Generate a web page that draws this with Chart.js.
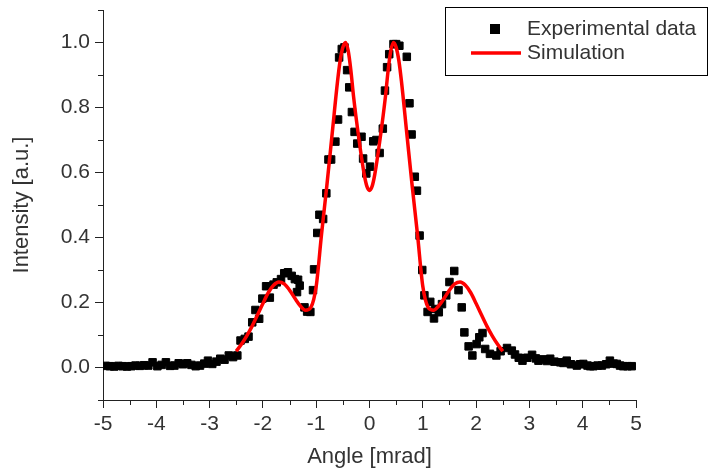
<!DOCTYPE html>
<html>
<head>
<meta charset="utf-8">
<script src="https://cdn.jsdelivr.net/npm/chart.js@4/dist/chart.umd.min.js"></script>
<style>
  body { margin: 0; background: #fff; }
  canvas { display: block; }
</style>
</head>
<body>
<canvas id="chart" width="711" height="471"></canvas>
<script>
// experimental points (angle in mrad, normalised intensity)
const expAngle = [
  -4.95, -4.87, -4.79, -4.71, -4.63, -4.55, -4.47, -4.39, -4.31, -4.23,
  -4.15, -4.07, -3.98, -3.90, -3.82, -3.74, -3.66, -3.58, -3.50, -3.42,
  -3.34, -3.26, -3.18, -3.10, -3.03, -2.95, -2.87, -2.80, -2.72, -2.64,
  -2.56, -2.48, -2.42, -2.34, -2.27, -2.20, -2.14, -2.07, -2.01, -1.94,
  -1.87, -1.80, -1.74, -1.66, -1.60, -1.53, -1.46, -1.40, -1.34, -1.36,
  -1.31, -1.22, -1.17, -1.11, -1.06, -1.04, -0.98, -0.94, -0.87, -0.81,
  -0.77, -0.72, -0.64, -0.59, -0.57, -0.52, -0.47, -0.42, -0.38, -0.33,
  -0.28, -0.23, -0.15, -0.12, -0.06, 0.01, 0.07, 0.13, 0.19, 0.25,
  0.29, 0.33, 0.37, 0.45, 0.50, 0.56, 0.70, 0.75, 0.79, 0.85,
  0.89, 0.94, 0.99, 1.03, 1.09, 1.14, 1.21, 1.23, 1.30, 1.36,
  1.44, 1.50, 1.59, 1.67, 1.73, 1.78, 1.86, 1.93, 2.01, 2.06,
  2.12, 2.17, 2.26, 2.38, 2.46, 2.58, 2.67, 2.73, 2.80, 2.87,
  2.96, 3.05, 3.12, 3.17, 3.26, 3.33, 3.39, 3.47, 3.58, 3.64,
  3.70, 3.78, 3.89, 3.95, 4.01, 4.09, 4.14, 4.20, 4.28, 4.36,
  4.44, 4.51, 4.58, 4.64, 4.70, 4.76, 4.84, 4.92
];
const expIntensity = [
  0.005, 0.004, 0.003, 0.005, 0.004, 0.003, 0.004, 0.006, 0.005, 0.007,
  0.006, 0.016, 0.004, 0.008, 0.016, 0.005, 0.006, 0.013, 0.010, 0.013,
  0.008, 0.004, 0.006, 0.012, 0.021, 0.011, 0.018, 0.027, 0.024, 0.037,
  0.032, 0.037, 0.083, 0.088, 0.095, 0.139, 0.177, 0.150, 0.212, 0.250,
  0.215, 0.255, 0.262, 0.272, 0.290, 0.293, 0.282, 0.272, 0.270, 0.232,
  0.252, 0.185, 0.172, 0.171, 0.238, 0.302, 0.414, 0.470, 0.457, 0.536,
  0.640, 0.640, 0.695, 0.763, 0.954, 0.980, 0.985, 0.915, 0.862, 0.786,
  0.725, 0.689, 0.710, 0.643, 0.597, 0.618, 0.696, 0.700, 0.660, 0.735,
  0.852, 0.924, 0.964, 0.995, 0.995, 0.990, 0.956, 0.813, 0.717, 0.587,
  0.544, 0.406, 0.300, 0.222, 0.171, 0.202, 0.151, 0.180, 0.170, 0.195,
  0.222, 0.263, 0.297, 0.238, 0.185, 0.108, 0.065, 0.037, 0.072, 0.093,
  0.106, 0.057, 0.042, 0.037, 0.050, 0.060, 0.052, 0.040, 0.030, 0.021,
  0.030, 0.039, 0.028, 0.021, 0.025, 0.020, 0.027, 0.018, 0.016, 0.014,
  0.021, 0.010, 0.006, 0.010, 0.011, 0.006, 0.004, 0.004, 0.006, 0.006,
  0.010, 0.021, 0.012, 0.011, 0.006, 0.004, 0.004, 0.004
];

// simulated curve
const simAngle = [
  -2.5, -2.4, -2.3, -2.2, -2.1, -2.0, -1.9, -1.8, -1.7, -1.6,
  -1.5, -1.4, -1.3, -1.2, -1.1, -1.0, -0.9, -0.8, -0.7, -0.6,
  -0.55, -0.5, -0.45, -0.4, -0.35, -0.3, -0.2, -0.1, -0.05, 0,
  0.05, 0.1, 0.2, 0.3, 0.35, 0.4, 0.45, 0.5, 0.55, 0.6,
  0.7, 0.8, 0.9, 1.0, 1.1, 1.2, 1.3, 1.4, 1.5, 1.6,
  1.7, 1.8, 1.9, 2.0, 2.1, 2.2, 2.3, 2.4, 2.5
];
const simIntensity = [
  0.050, 0.072, 0.098, 0.128, 0.162, 0.197, 0.230, 0.253, 0.263, 0.257,
  0.238, 0.213, 0.190, 0.176, 0.185, 0.250, 0.410, 0.560, 0.720, 0.880,
  0.945, 0.985, 1.000, 0.975, 0.915, 0.835, 0.705, 0.595, 0.558, 0.545,
  0.558, 0.595, 0.705, 0.835, 0.915, 0.975, 1.000, 0.985, 0.945, 0.880,
  0.720, 0.560, 0.410, 0.250, 0.185, 0.176, 0.190, 0.213, 0.238, 0.257,
  0.263, 0.253, 0.230, 0.197, 0.162, 0.128, 0.098, 0.072, 0.050
];

const axisColor = "#222";
const textColor = "#333";
const fontFamily = "'Liberation Sans', Arial, sans-serif";

const isMajorX = (v) => Math.abs(v - Math.round(v)) < 1e-6;
const isMajorY = (v) => {
  const k = Math.round(v * 10);
  return k % 2 === 0 && k >= 0 && k <= 10;
};

// short ticks for the half steps
const minorTicks = {
  id: "minorTicks",
  afterDraw(chart) {
    const ctx = chart.ctx;
    const xs = chart.scales.x;
    const ys = chart.scales.y;
    ctx.save();
    ctx.strokeStyle = axisColor;
    ctx.lineWidth = 1;
    ctx.beginPath();
    xs.ticks.forEach((t) => {
      if (isMajorX(t.value)) return;
      const px = Math.round(xs.getPixelForValue(t.value)) + 0.5;
      ctx.moveTo(px, xs.top);
      ctx.lineTo(px, xs.top + 5);
    });
    ys.ticks.forEach((t) => {
      if (isMajorY(t.value)) return;
      const py = Math.round(ys.getPixelForValue(t.value)) + 0.5;
      ctx.moveTo(ys.right - 5, py);
      ctx.lineTo(ys.right, py);
    });
    ctx.stroke();
    ctx.restore();
  },
};

// boxed legend in the top right corner
const boxLegend = {
  id: "boxLegend",
  afterDraw(chart) {
    const ctx = chart.ctx;
    const ds = chart.data.datasets;
    ctx.save();
    ctx.strokeStyle = "#000";
    ctx.lineWidth = 1;
    ctx.strokeRect(445.5, 7.5, 262, 68);
    ctx.font = "21px " + fontFamily;
    ctx.fillStyle = textColor;
    ctx.textBaseline = "middle";
    ctx.fillText(ds[0].label, 527, 29);
    ctx.fillText(ds[1].label, 527, 53);
    ctx.fillStyle = ds[0].backgroundColor;
    ctx.fillRect(490, 24, 10, 10);
    ctx.strokeStyle = ds[1].borderColor;
    ctx.lineWidth = 3.5;
    ctx.beginPath();
    ctx.moveTo(471, 53);
    ctx.lineTo(521, 53);
    ctx.stroke();
    ctx.restore();
  },
};

const ctx = document.getElementById("chart").getContext("2d");

new Chart(ctx, {
  type: "scatter",
  data: {
    datasets: [
      {
        label: "Experimental data",
        data: expAngle.map((x, i) => ({ x: x, y: expIntensity[i] })),
        pointStyle: "rect",
        pointRadius: 5.3,
        borderWidth: 1,
        borderColor: "#000",
        backgroundColor: "#000",
        order: 1,
      },
      {
        label: "Simulation",
        type: "line",
        data: simAngle.map((x, i) => ({ x: x, y: simIntensity[i] })),
        borderColor: "#ff0000",
        backgroundColor: "#ff0000",
        borderWidth: 3.5,
        pointRadius: 0,
        cubicInterpolationMode: "monotone",
        fill: false,
        order: 0,
      },
    ],
  },
  options: {
    responsive: false,
    animation: false,
    layout: { padding: { left: 0, top: 10, right: 75, bottom: 0 } },
    plugins: {
      legend: { display: false },
      tooltip: { enabled: false },
    },
    scales: {
      x: {
        type: "linear",
        min: -5,
        max: 5,
        afterFit: (scale) => { scale.height = 71; },
        ticks: {
          stepSize: 0.5,
          maxRotation: 0,
          autoSkip: false,
          padding: 4,
          color: textColor,
          font: { family: fontFamily, size: 21 },
          callback: (v) => (isMajorX(v) ? String(Math.round(v)) : ""),
        },
        grid: {
          drawOnChartArea: false,
          drawTicks: true,
          tickLength: 8,
          tickColor: (c) => (c.tick && isMajorX(c.tick.value) ? axisColor : "rgba(0,0,0,0)"),
        },
        border: { display: true, color: axisColor, width: 1 },
        title: {
          display: true,
          text: "Angle [mrad]",
          color: textColor,
          font: { family: fontFamily, size: 22 },
          padding: { top: 0, bottom: 1 },
        },
      },
      y: {
        min: -0.1,
        max: 1.1,
        afterFit: (scale) => {
          scale.width = 103;
          scale.paddingTop = 0;
          scale.paddingBottom = 0;
        },
        ticks: {
          stepSize: 0.1,
          autoSkip: false,
          padding: 5,
          color: textColor,
          font: { family: fontFamily, size: 21 },
          callback: (v) => (isMajorY(v) ? (Math.round(v * 10) / 10).toFixed(1) : ""),
        },
        grid: {
          drawOnChartArea: false,
          drawTicks: true,
          tickLength: 8,
          tickColor: (c) => (c.tick && isMajorY(c.tick.value) ? axisColor : "rgba(0,0,0,0)"),
        },
        border: { display: true, color: axisColor, width: 1 },
        title: {
          display: true,
          text: "Intensity [a.u.]",
          color: textColor,
          font: { family: fontFamily, size: 22 },
          padding: { top: 9, bottom: 0 },
        },
      },
    },
  },
  plugins: [minorTicks, boxLegend],
});
</script>
</body>
</html>
